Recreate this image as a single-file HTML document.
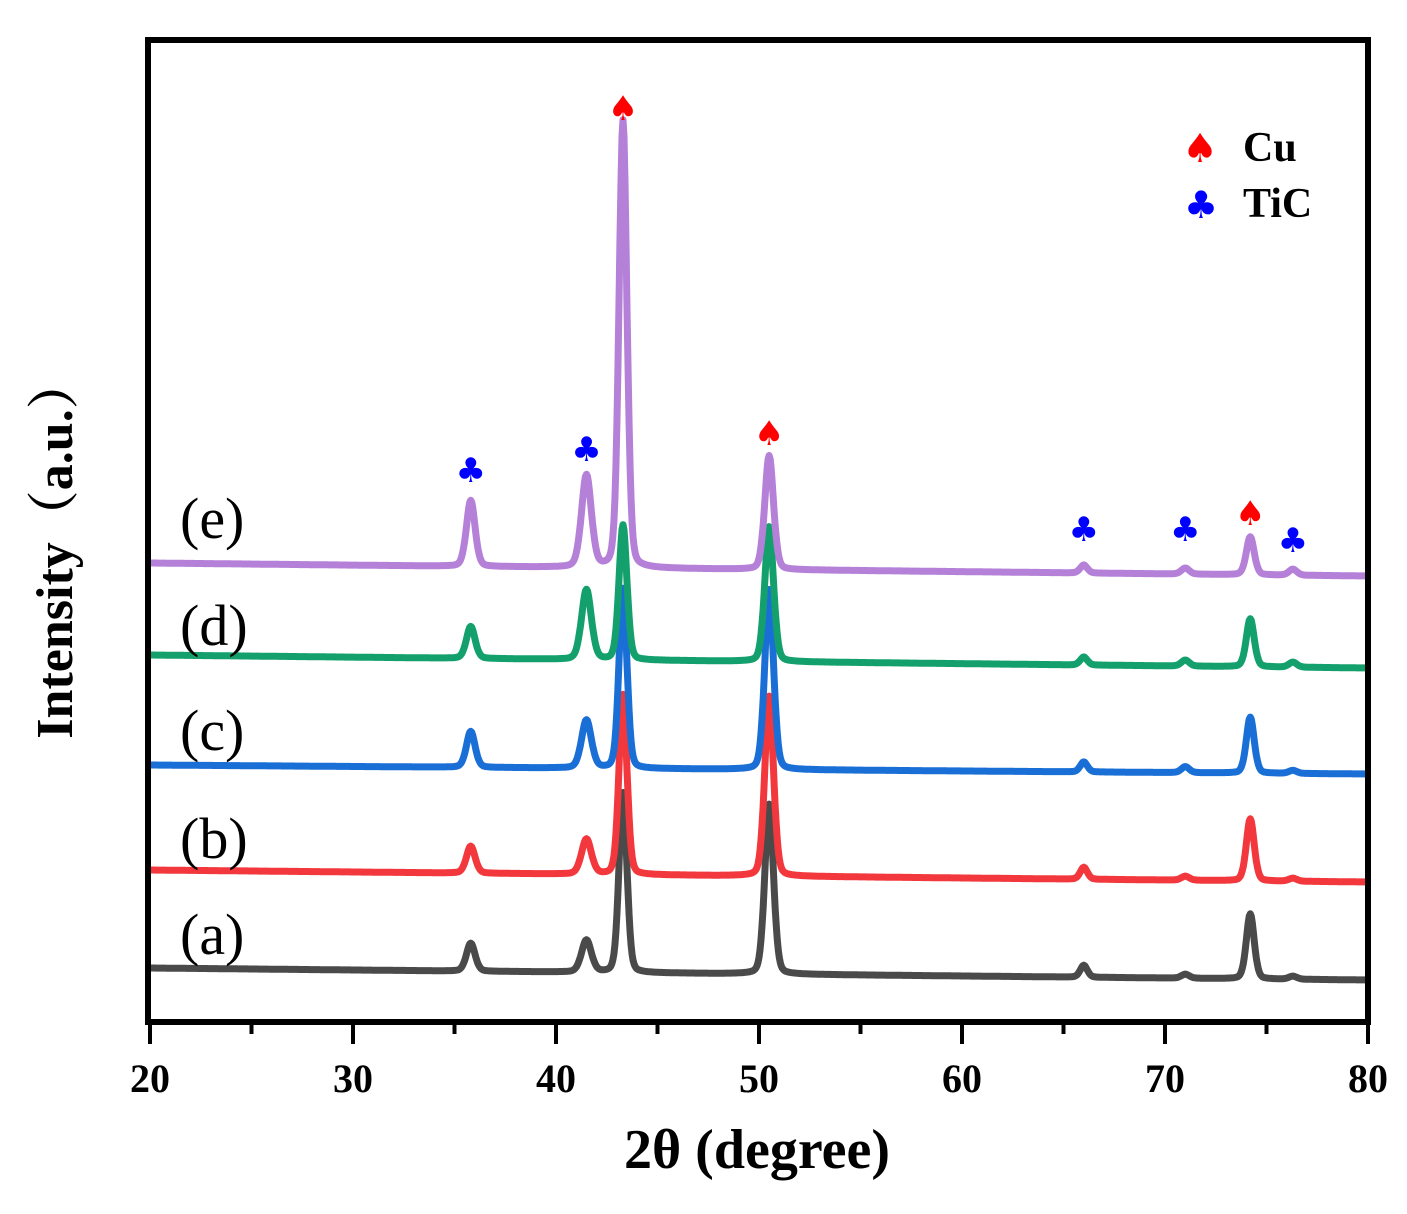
<!DOCTYPE html>
<html><head><meta charset="utf-8"><style>
body{margin:0;background:#fff}
svg{display:block;font-family:"Liberation Serif",serif}
</style></head><body>
<svg id="chart" width="1407" height="1214" viewBox="0 0 1407 1214" xmlns="http://www.w3.org/2000/svg">
<g id="series"></g>
<g id="markers"></g>
<rect x="148" y="40" width="1220" height="982" fill="none" stroke="#000" stroke-width="6"/>
<g id="ticks"></g>
<text x="757" y="1168" text-anchor="middle" font-size="56" font-weight="bold">2θ (degree)</text>
<text transform="translate(72,548) rotate(-90)" text-anchor="middle" font-size="52" font-weight="bold" font-family="Liberation Serif, Noto Serif CJK SC, serif">Intensity（a.u.）</text>
<g>
<text x="1200" y="162" text-anchor="middle" font-size="40" fill="#f00" font-family="DejaVu Sans, sans-serif">♠</text>
<text x="1243" y="161" font-size="42" font-weight="bold">Cu</text>
<text x="1201" y="218" text-anchor="middle" font-size="38" fill="#00f" font-family="DejaVu Sans, sans-serif">♣</text>
<text x="1243" y="217" font-size="42" font-weight="bold">TiC</text>
</g>
</svg>
<script>
const xTicks=[20,30,40,50,60,70,80];
const peakPos=[35.8,41.5,43.3,50.5,66.0,71.0,74.2,76.3];
const peakSigma=[0.22,0.25,0.2,0.22,0.18,0.2,0.2,0.2];
const seriesNames=["(a)","(b)","(c)","(d)","(e)"];
const seriesColors=["#4a4a4a","#f2383c","#1a6fd6","#14a06c","#b580d8"];
const baseLeft=[968,870,765,655,563];
const baseRight=[980,882,774,668,576];
const hA=[28,32,180,170,12,4,65,3];
const hB=[27,35,180,180,12,4,62,3];
const hC=[36,48,180,180,10,6,56,3];
const hD=[32,70,135,135,8,6,48,5];
const hE=[66,92,448,114,8,6,38,6];
const heights=[hA,hB,hC,hD,hE];
const labelY=[954,858,750,645,538];
const cuMarks=[43.3,50.5,74.2];
const cuMarkY=[120,445,525];
const ticMarks=[35.8,41.5,66.0,71.0,76.3];
const ticMarkY=[482,461,541,541,552];

const NS="http://www.w3.org/2000/svg";
const X0=150,X1=1368;
function xs(v){return X0+(v-20)/60*(X1-X0);}
const sg=document.getElementById('series');
for(let s=0;s<5;s++){
  let d="";
  for(let i=0;i<=1200;i++){
    const v=20+i*0.05;
    let y=baseLeft[s]+(baseRight[s]-baseLeft[s])*(v-20)/60;
    for(let k=0;k<peakPos.length;k++){
      const z=(v-peakPos[k])/peakSigma[k];
      y-=heights[s][k]*(0.75*Math.exp(-z*z/2)+0.25/(1+z*z));
    }
    y=Math.max(y,40);
    d+=(i?"L":"M")+xs(v).toFixed(1)+","+y.toFixed(1);
  }
  const p=document.createElementNS(NS,'path');
  
  
  p.setAttribute('d',d);p.setAttribute('fill','none');
  p.setAttribute('stroke',seriesColors[s]);p.setAttribute('stroke-width','7');
  p.setAttribute('stroke-linejoin','round');
  sg.appendChild(p);
  const t=document.createElementNS(NS,'text');
  
  
  t.setAttribute('x','180');t.setAttribute('y',labelY[s]);
  t.setAttribute('font-size','58');t.textContent=seriesNames[s];
  sg.appendChild(t);
}
const mg=document.getElementById('markers');
cuMarks.forEach((v,i)=>{
  const t=document.createElementNS(NS,'text');
  
  
  t.setAttribute('x',xs(v));t.setAttribute('y',cuMarkY[i]);
  t.setAttribute('text-anchor','middle');t.setAttribute('font-size','34');
  t.setAttribute('fill','#f00');t.setAttribute('font-family','DejaVu Sans, sans-serif');
  t.textContent='♠';mg.appendChild(t);
});
ticMarks.forEach((v,i)=>{
  const t=document.createElementNS(NS,'text');
  
  
  t.setAttribute('x',xs(v));t.setAttribute('y',ticMarkY[i]);
  t.setAttribute('text-anchor','middle');t.setAttribute('font-size','34');
  t.setAttribute('fill','#00f');t.setAttribute('font-family','DejaVu Sans, sans-serif');
  t.textContent='♣';mg.appendChild(t);
});
const tg=document.getElementById('ticks');
for(let v=20;v<=80;v+=5){
  const major=v%10===0;
  const l=document.createElementNS(NS,'line');
  
  
  l.setAttribute('x1',xs(v));l.setAttribute('x2',xs(v));
  l.setAttribute('y1',1022);l.setAttribute('y2',major?1044:1034);
  l.setAttribute('stroke','#000');l.setAttribute('stroke-width','4');
  tg.appendChild(l);
}
xTicks.forEach(v=>{
  const t=document.createElementNS(NS,'text');
  
  
  t.setAttribute('x',xs(v));t.setAttribute('y',1092);
  t.setAttribute('text-anchor','middle');t.setAttribute('font-size','40');
  t.setAttribute('font-weight','bold');t.textContent=v;
  tg.appendChild(t);
});
</script>
</body></html>
